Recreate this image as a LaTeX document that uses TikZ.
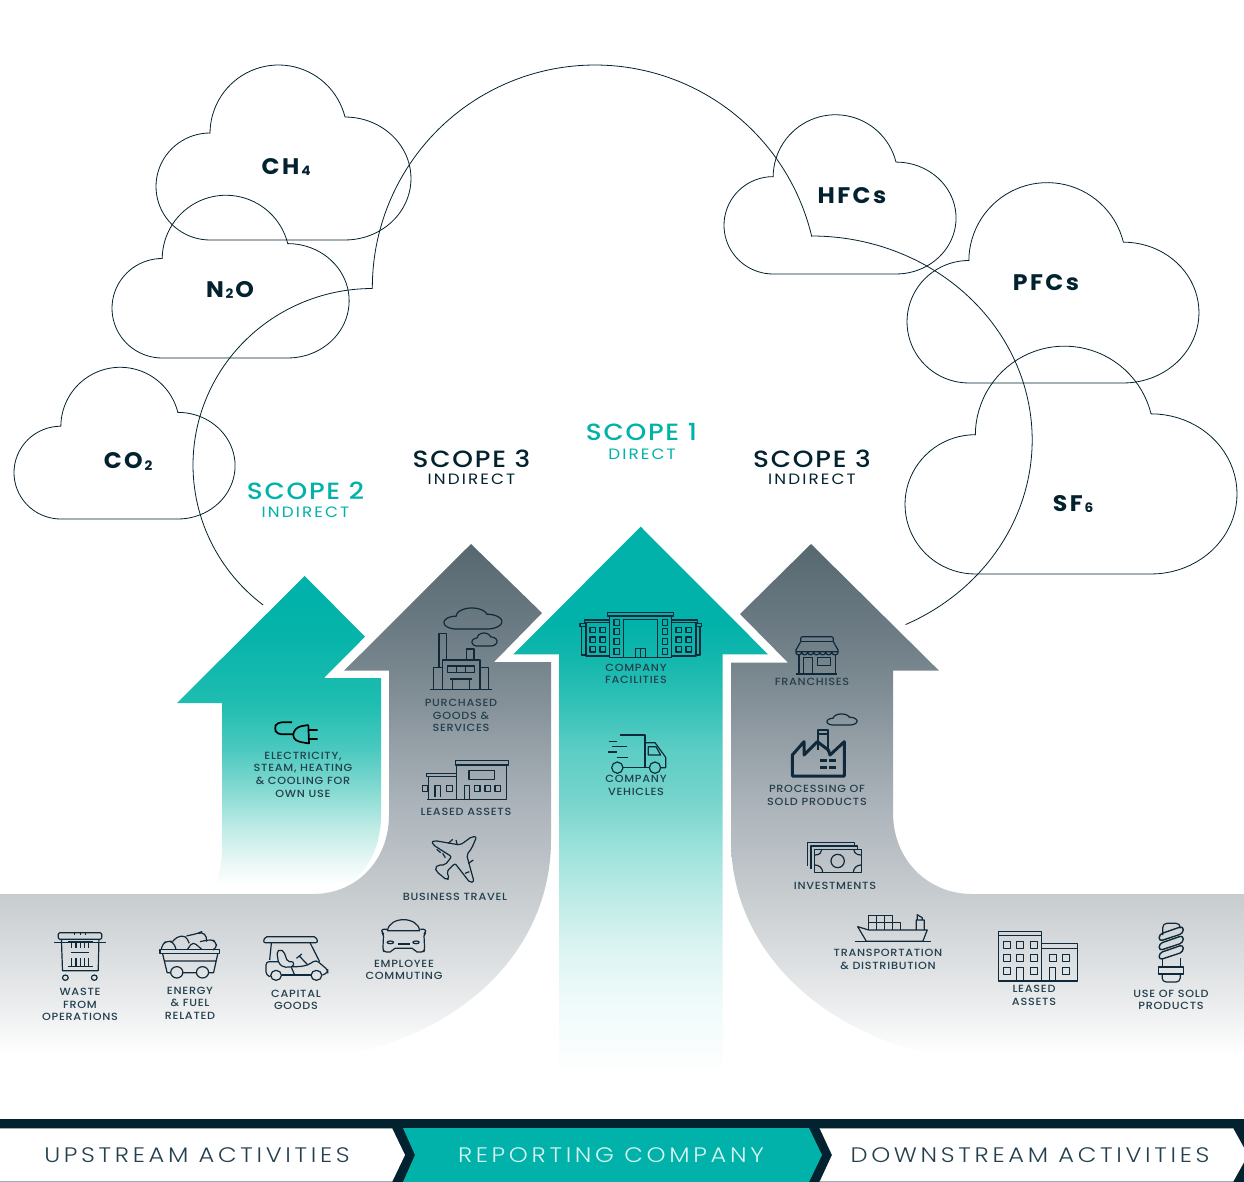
\documentclass[tikz,border=0pt]{standalone}
\usepackage{fontspec}
\newfontfamily\labf{Poppins Medium}[LetterSpace=7,FakeStretch=1.08]
\newfontfamily\scof{Poppins Medium}[LetterSpace=7.5,FakeStretch=1.12]
\newfontfamily\subf{Poppins}[LetterSpace=14,FakeStretch=1.12]
\newfontfamily\barf{Poppins Light}[LetterSpace=17.5,FakeStretch=1.15]
\newfontfamily\gasf{Poppins Bold}[LetterSpace=11,FakeStretch=1.05]
\definecolor{navy}{HTML}{02222F}
\definecolor{tealc}{HTML}{00B2A9}
\definecolor{labc}{HTML}{24404E}
\definecolor{icon}{HTML}{10293A}
\definecolor{g1}{HTML}{E9EBEC}\definecolor{g2}{HTML}{C7CCCF}\definecolor{g3}{HTML}{AAB2B9}\definecolor{g4}{HTML}{78868E}\definecolor{g5}{HTML}{55676F}
\definecolor{t1}{HTML}{EEFAFA}\definecolor{t2}{HTML}{DCF4F2}\definecolor{t3}{HTML}{C0EBE7}\definecolor{t4}{HTML}{9DE2DC}\definecolor{t5}{HTML}{76D4CC}\definecolor{t6}{HTML}{5CCDC5}\definecolor{t7}{HTML}{2FC0B6}\definecolor{t8}{HTML}{10B6AC}
\definecolor{s1}{HTML}{E6F7F5}\definecolor{s2}{HTML}{C2ECE7}\definecolor{s3}{HTML}{85DAD2}\definecolor{s4}{HTML}{4CC9BF}\definecolor{s5}{HTML}{1FBDB0}\definecolor{s6}{HTML}{08B4AA}
\pgfdeclareverticalshading{grayarrow}{100bp}{color(0bp)=(white);color(25bp)=(white);color(30.4bp)=(g1);color(40.75bp)=(g2);color(49.95bp)=(g3);color(62.65bp)=(g4);color(75bp)=(g5);color(100bp)=(g5)}
\pgfdeclareverticalshading{centerarrow}{100bp}{color(0bp)=(white);color(25bp)=(white);color(31.85bp)=(t1);color(36.4bp)=(t2);color(40.95bp)=(t3);color(45.55bp)=(t4);color(50.1bp)=(t5);color(54.65bp)=(t6);color(59.2bp)=(t7);color(63.4bp)=(t8);color(66.5bp)=(tealc);color(100bp)=(tealc)}
\pgfdeclareverticalshading{scopetwo}{100bp}{color(0bp)=(white);color(26.25bp)=(white);color(30.2bp)=(s1);color(34.95bp)=(s2);color(41.25bp)=(s3);color(47.55bp)=(s4);color(54.95bp)=(s5);color(64.9bp)=(s6);color(71.35bp)=(tealc);color(100bp)=(tealc)}
\tikzset{
  cloudline/.style={draw=navy,line width=0.8pt},
  iconline/.style={draw=icon,line width=1.2pt,line join=round},
  smallcloud/.style={draw=icon,line width=1.2pt},
  lab/.style={font=\labf\fontsize{10.4}{12.6}\selectfont,text=labc,align=center,inner sep=0pt},
  scopenavy/.style={font=\scof\fontsize{23.5}{24}\selectfont,text=navy,inner sep=0pt},
  subnavy/.style={font=\subf\fontsize{15}{16}\selectfont,text=navy,inner sep=0pt},
  scopeteal/.style={font=\scof\fontsize{23.5}{24}\selectfont,text=tealc,inner sep=0pt},
  subteal/.style={font=\subf\fontsize{15}{16}\selectfont,text=tealc,inner sep=0pt},
  gas/.style={font=\gasf\fontsize{22.5}{24}\selectfont,text=navy,inner sep=0pt},
  barlabel/.style={font=\barf\fontsize{21}{24}\selectfont,inner sep=0pt},
  zone/.style={shift={(0,880)},xscale=0.35714,yscale=0.33333},
  ztwo/.style={shift={(720,880)},xscale=0.3342,yscale=0.33333},
  zthree/.style={shift={(170,570)},xscale=0.33333,yscale=0.33333},
  zfour/.style={shift={(500,520)},xscale=0.33333,yscale=0.33333},
}
\newcommand\cloudat[4][cloudline]{\draw[#1,shift={(#2,#3)},#4] (54,0) -- (189,0) -- plot[domain=90:-90,samples=41] ({189+66*cos(\x)},{-61.5+61.5*sin(\x)}) -- plot[domain=-14:-180,samples=41] ({122.5+68.5*cos(\x)},{-106.5+68.5*sin(\x)}) -- plot[domain=-90:-270,samples=41] ({54+54*cos(\x)},{-53.5+53.5*sin(\x)}) -- cycle;}
\newcommand\lowdigit[1]{\kern1.8pt\raisebox{-1.5pt}{\fontsize{13}{13}\selectfont #1}\kern1.8pt}
\begin{document}
\begin{tikzpicture}[x=1pt,y=-1pt]
\useasboundingbox (0,0) rectangle (1244,1182);
\fill[white] (0,0) rectangle (1244,1182);
% clouds
\cloudat{156}{240}{scale=1}
\cloudat{112}{358}{scale=0.93}
\cloudat{14}{519}{scale=0.867}
\cloudat{724}{274}{scale=0.91}
\cloudat{907}{383}{scale=1.145}
\cloudat{905}{574}{scale=1.302}
% big outline
\draw[cloudline] plot[domain=127.5:270,samples=80] ({372.3+179.3*cos(\x)},{465+176.5*sin(\x)})
  -- plot[domain=180:346.6,samples=100] ({595+222.7*cos(\x)},{287.7+222.7*sin(\x)})
  -- plot[domain=-90:64.8,samples=100] ({811.7+220.5*cos(\x)},{440+204*sin(\x)});
% arrows
\shade[shading=grayarrow] (0,894) -- (313,894) .. controls (357,894) and (389,860) .. (389,815) -- (389,670.7) -- (344,670.7) -- (471,544) -- (542,613) -- (494,662) -- (551,662) -- (551,840) .. controls (551,945) and (470,1030) .. (345,1055) -- (0,1055) -- cycle;
\shade[shading=grayarrow] (1244,894) -- (972,894) .. controls (928,894) and (893,860) .. (893,813) -- (893,670.7) -- (939,670.7) -- (811,544) -- (740,614) -- (788,662.7) -- (731,662.7) -- (731,840) .. controls (731,945) and (815,1030) .. (935,1055) -- (1244,1055) -- cycle;
\shade[shading=scopetwo] (304.7,576) -- (365,636.7) -- (324,678) -- (381,678) -- (381,815) .. controls (381,860) and (355,893) .. (313,893) -- (213,893) .. controls (218,880) and (222,865) .. (222,850) -- (222,703) -- (177,703) -- cycle;
\shade[shading=centerarrow] (640.7,526.7) -- (768,654.3) -- (722.7,654.3) -- (722.7,1075) -- (559,1075) -- (559,654.3) -- (513.3,654.3) -- cycle;
% bottom bar
\fill[navy] (0,1119) rectangle (1244,1182);
\fill[white] (0,1128) -- (392,1128) -- (405,1155) -- (392,1182) -- (0,1182) -- cycle;
\fill[tealc] (403,1128) -- (809,1128) -- (822,1155) -- (809,1182) -- (403,1182) -- (415,1155) -- cycle;
\fill[white] (819.5,1128) -- (1233,1128) -- (1248,1155) -- (1233,1182) -- (819.5,1182) -- (832,1155) -- cycle;
\draw[g4!70,line width=0.7pt] (0,1128.3) -- (392,1128.3) (819.5,1128.3) -- (1233,1128.3) (0,1181.5) -- (392,1181.5) (819.5,1181.5) -- (1233,1181.5);
\node[barlabel,text=labc] (up) at (197,1155.5) {UPSTREAM ACTIVITIES};
\node[barlabel,text=white!85!tealc] (rep) at (611,1155.5) {REPORTING COMPANY};
\node[barlabel,text=labc] (down) at (1030,1155.5) {DOWNSTREAM ACTIVITIES};
% gases
\node[gas] (ch4) at (287,167) {CH\lowdigit{4}};
\node[gas] (n2o) at (230,290) {N\lowdigit{2}O};
\node[gas] (co2) at (129,461.5) {CO\lowdigit{2}};
\node[gas] (hfc) at (852,195.5) {HFCs};
\node[gas] (pfc) at (1046,282.5) {PFCs};
\node[gas] (sf6) at (1074,504) {SF\lowdigit{6}};
% scopes
\node[scopeteal] (s1) at (641.5,432.5) {SCOPE 1};
\node[subteal] (s1b) at (642,454) {DIRECT};
\node[scopenavy] (s3a) at (471.5,458.5) {SCOPE 3};
\node[subnavy] (s3ab) at (471.5,479) {INDIRECT};
\node[scopenavy] (s3b) at (812,458.5) {SCOPE 3};
\node[subnavy] (s3bb) at (812,479) {INDIRECT};
\node[scopeteal] (s2) at (305.5,490.5) {SCOPE 2};
\node[subteal] (s2b) at (305.5,512) {INDIRECT};
% labels
\node[lab] (l1) at (303,774.5) {ELECTRICITY,\\STEAM, HEATING\\\& COOLING FOR\\OWN USE};
\node[lab] (l2) at (461,715.5) {PURCHASED\\GOODS \&\\SERVICES};
\node[lab] (l3) at (466,812) {LEASED ASSETS};
\node[lab] (l4) at (455,897) {BUSINESS TRAVEL};
\node[lab] (l5) at (404,970) {EMPLOYEE\\COMMUTING};
\node[lab] (l6) at (296,1000) {CAPITAL\\GOODS};
\node[lab] (l7) at (190,1003) {ENERGY\\\& FUEL\\RELATED};
\node[lab] (l8) at (80,1004.5) {WASTE\\FROM\\OPERATIONS};
\node[lab] (l9) at (636,674) {COMPANY\\FACILITIES};
\node[lab] (l10) at (636,785.5) {COMPANY\\VEHICLES};
\node[lab] (l11) at (812,682) {FRANCHISES};
\node[lab] (l12) at (817,795.5) {PROCESSING OF\\SOLD PRODUCTS};
\node[lab] (l13) at (835,886) {INVESTMENTS};
\node[lab] (l14) at (888,959.5) {TRANSPORTATION\\\& DISTRIBUTION};
\node[lab] (l15) at (1034,995.5) {LEASED\\ASSETS};
\node[lab] (l16) at (1171,1000) {USE OF SOLD\\PRODUCTS};
% icon clouds
\cloudat[smallcloud]{444}{629}{xscale=0.227,yscale=0.12}
\cloudat[smallcloud]{472}{646}{xscale=0.098,yscale=0.074}
\cloudat[smallcloud]{827}{725}{xscale=0.118,yscale=0.063}
% icons from zoom 1: bin, cart, golf cart, car
\begin{scope}[zone,iconline]
 \draw[rounded corners=2pt] (163,178) -- (163,158) -- (285,158) -- (285,178) -- cycle;
 \draw (152,188) -- (296,188);
 \draw (172,178) -- (175,272) -- (275,272) -- (277,178);
 \draw (208,155) -- (208,165) (225,155) -- (225,165) (240,155) -- (240,165);
 \draw (183,293) circle[radius=8] (264,293) circle[radius=8];
 \draw (190,186) -- (260,186) (200,186) -- (200,203) (213,186) -- (213,203) (225,186) -- (225,203) (237,186) -- (237,203) (248,186) -- (248,203);
 \draw (198,218) -- (250,218);
 \draw (190,260) -- (260,260) (200,235) -- (200,260) (213,235) -- (213,260) (225,235) -- (225,260) (237,235) -- (237,260) (248,235) -- (248,260);
 % cart
 \draw (448,208) rectangle (615,220);
 \draw (455,220) -- (468,278) -- (478,278) (610,220) -- (598,278) -- (584,278) (512,278) -- (550,278) (459,243) -- (605,243);
 \draw (495,277) circle[radius=17] (567,277) circle[radius=17];
 \draw[rounded corners=4pt] (452,208) -- (455,190) -- (470,183) -- (485,185) -- (493,208);
 \draw[rounded corners=4pt] (483,185) -- (495,170) -- (520,167) -- (530,190);
 \draw[rounded corners=4pt] (522,168) -- (555,160) -- (565,155) -- (580,170) -- (578,185);
 \draw[rounded corners=4pt] (560,185) -- (590,178) -- (605,185) -- (607,205) -- (600,208);
 \draw[rounded corners=4pt] (525,208) -- (540,185) -- (565,208);
 % golf cart
 \draw[rounded corners=2pt] (737,188) -- (742,170) -- (885,170) -- (890,188) -- cycle;
 \draw (760,188) -- (755,240) (868,188) -- (895,245);
 \draw[rounded corners=2pt] (775,215) -- (785,208) -- (795,215) -- (805,245) -- (822,245) -- (822,260) -- (795,262) -- (780,250) -- cycle;
 \draw (830,235) -- (845,222) (838,228) -- (862,255);
 \draw[rounded corners=3pt] (757,290) -- (745,285) -- (745,245) -- (780,245);
 \draw (790,285) -- (870,285);
 \draw[rounded corners=3pt] (903,285) -- (918,278) -- (918,270) -- (885,240) -- (862,255) -- (840,260) -- (815,260);
 \draw (815,260) -- (825,285);
 \draw (773,286) circle[radius=15] (886,286) circle[radius=15];
 % car
 \draw (1085,152) .. controls (1090,108) and (1170,108) .. (1175,152) -- cycle;
 \draw[rounded corners=2pt] (1083,148) -- (1068,148) -- (1070,158) -- (1074,162) -- (1072,210) -- (1076,216) -- (1098,216) -- (1100,205) -- (1160,205) -- (1162,216) -- (1186,216) -- (1189,210) -- (1187,162) -- (1192,158) -- (1192,148) -- (1177,148);
 \draw (1093,187) ellipse[x radius=9,y radius=4] (1165,187) ellipse[x radius=9,y radius=4];
 \draw (1113,192) -- (1147,192);
\end{scope}
% zoom 2: ship, building, bulb
\begin{scope}[ztwo,iconline]
 \draw (412,140) -- (445,150) -- (620,150) -- (607,184) -- (438,184) -- cycle;
 \draw (403,185) -- (630,185);
 \draw (445,150) -- (445,106) -- (517,106) -- (517,150) (517,128) -- (540,128) -- (540,150) (469,106) -- (469,150) (493,106) -- (493,150) (445,128) -- (517,128);
 \draw (587,150) -- (587,120) -- (611,120) -- (611,150) (590,120) -- (590,104) -- (605,113) -- (605,120);
 % building
 \draw (833,303) rectangle (963,155) (833,167) -- (963,167);
 \draw (963,303) rectangle (1070,190) (963,205) -- (1070,205);
 \foreach \wx in {848,887,928} \foreach \wy in {184,223} \draw (\wx,\wy) rectangle +(21,21);
 \draw (848,262) rectangle +(21,21) (928,262) rectangle +(21,21) (887,303) rectangle (908,262);
 \draw (985,223) rectangle +(21,21) (1025,223) rectangle +(21,21) (1025,262) rectangle +(21,21) (985,303) rectangle (1005,262);
 % bulb
 \draw (1313,261) rectangle (1387,282);
 \draw[rounded corners=4pt] (1323,282) -- (1323,306) -- (1377,306) -- (1377,282);
 \draw (1325,235) -- (1325,261) (1377,235) -- (1377,261);
 \draw[rounded corners=4pt] (1325,165) -- (1325,130) -- (1377,130) -- (1377,145);
 \foreach \cy in {162,190,218} \draw[rounded corners=3.5pt,line width=1.4pt] (1314,\cy+1) -- (1386,\cy-24) -- (1386,\cy-2) -- (1314,\cy+22) -- cycle;
\end{scope}
% zoom 3: plug, factory, leased assets, plane
\begin{scope}[zthree,iconline]
 \draw[black,line width=1.7pt,rounded corners=4pt] (366,457) -- (322,457) -- (312,475) -- (322,493) -- (370,493);
 \draw[black,line width=1.7pt,rounded corners=3pt] (415,465) -- (385,470) -- (370,485) -- (370,505) -- (385,515) -- (415,520);
 \draw[black,line width=1.7pt] (415,465) -- (417,522) (417,480) -- (443,480) (417,507) -- (443,507);
 % factory
 \draw (780,358) -- (965,358);
 \draw (807,293) -- (807,190) -- (830,190) -- (830,270) (890,270) -- (890,237) -- (912,237) -- (912,270);
 \draw (817,358) -- (817,270) -- (930,270) -- (930,358) (817,293) -- (790,293) -- (790,358) (930,293) -- (955,293) -- (955,358);
 \draw (833,288) rectangle (913,308) (860,288) -- (860,308) (886,288) -- (886,308);
 \draw (840,327) -- (907,327) (848,327) -- (848,358) (898,327) -- (898,358);
 % leased
 \draw (860,688) -- (860,585) -- (1010,585) -- (1010,688) -- cycle;
 \draw (856,585) rectangle (1015,572);
 \draw (897,601) rectangle (973,628);
 \draw (913,647) rectangle +(17,17) (945,647) rectangle +(17,17) (975,647) rectangle +(17,17);
 \draw (883,688) -- (883,647) -- (898,647) -- (898,688);
 \draw (772,688) -- (860,688) (775,620) -- (775,688) (770,610) rectangle (860,620);
 \draw (795,682) -- (795,647) -- (812,647) -- (812,682);
 \draw (830,647) rectangle +(17,17) (758,647) rectangle +(14,17);
 % plane
 \draw[rounded corners=2pt] (920,800) -- (905,835) -- (890,855) -- (912,935) -- (900,938) -- (855,880) -- (830,905) -- (838,925) -- (830,930) -- (800,905) -- (795,893) -- (805,885) -- (825,885) -- (845,860) -- (790,825) -- (785,815) -- (795,812) -- (870,825) -- (885,815) -- (905,800) -- cycle;
 \draw (835,820) -- (848,808) (862,825) -- (858,810) (800,838) -- (812,848) (818,850) -- (826,863) (895,880) -- (910,870) (885,910) -- (898,905) ;
\end{scope}
% zoom 4: facilities, truck, franchise, processing, investments
\begin{scope}[zfour,iconline]
 \draw (322,277) rectangle (521,288);
 \draw (328,288) rectangle (515,412);
 \draw (370,412) -- (370,298) -- (472,298) -- (472,412);
 \draw (406,412) -- (406,385) -- (437,385) -- (437,412) (421,385) -- (421,412);
 \foreach \wy in {298,325,355,385} {\draw (342,\wy) rectangle +(16,19); \draw (487,\wy) rectangle +(16,19);}
 \draw (328,300) -- (253,300) -- (253,308) -- (328,308) (258,308) -- (258,408) -- (328,408);
 \draw (258,310) -- (240,310) -- (240,320) -- (258,320) (245,320) -- (245,405) -- (258,405);
 \draw (515,300) -- (592,300) -- (592,308) -- (515,308) (588,308) -- (588,408) -- (515,408);
 \draw (588,310) -- (605,310) -- (605,320) -- (588,320) (600,320) -- (600,405) -- (588,405);
 \foreach \wx in {270,300,528,558} \foreach \wy in {322,351,380} \draw (\wx,\wy) rectangle +(17,16);
 % truck
 \draw (360,645) -- (435,645) -- (435,743);
 \draw (328,664) -- (350,664) (335,680) -- (382,680) (325,696) -- (350,696) (350,712) -- (385,712);
 \draw (435,668) -- (465,668) -- (497,712) -- (497,743) -- (482,743);
 \draw (445,680) -- (468,680) -- (482,705) -- (445,705) -- cycle;
 \draw (368,743) -- (448,743);
 \draw (352,743) circle[radius=17] (465,743) circle[radius=17];
 % franchise
 \draw[rounded corners=2pt] (902,365) -- (902,350) -- (1000,350) -- (1000,365);
 \draw (902,365) -- (1000,365);
 \draw[rounded corners=2pt] (902,365) -- (885,395) -- (1017,395) -- (1000,365);
 \draw (887,395) .. controls (887,408) and (905,408) .. (905,395) .. controls (905,408) and (923,408) .. (923,395) .. controls (923,408) and (941,408) .. (941,395) .. controls (941,408) and (959,408) .. (959,395) .. controls (959,408) and (977,408) .. (977,395) .. controls (977,408) and (995,408) .. (995,395) .. controls (995,408) and (1015,408) .. (1015,395);
 \draw (897,405) -- (897,462) (1007,405) -- (1007,462) (888,462) -- (1010,462);
 \draw (910,462) -- (910,412) -- (938,412) -- (938,462);
 \draw (952,413) rectangle (992,437);
 % processing
 \draw[line width=3pt,line join=round] (877,768) -- (877,705) -- (912,665) -- (912,705) -- (952,665) -- (985,690) -- (990,705) -- (1033,665) -- (1033,768) -- cycle;
 \draw[line width=2pt] (955,690) -- (955,630) -- (985,630) -- (985,695) (955,642) -- (985,642);
 \draw[line width=3pt] (960,722) -- (980,722) (988,722) -- (1007,722) (960,743) -- (980,743) (988,743) -- (1007,743);
 % investments
 \draw (943,988) rectangle (1085,1058);
 \draw (933,1048) -- (933,978) -- (1073,978) -- (1073,988);
 \draw (923,1038) -- (923,968) -- (1063,968) -- (1063,978);
 \draw (1013,1023) circle[radius=20];
 \draw (945,1005) .. controls (958,1005) and (965,998) .. (965,990) (1083,1005) .. controls (1070,1005) and (1062,998) .. (1062,990) (945,1035) .. controls (958,1035) and (968,1045) .. (968,1057) (1083,1035) .. controls (1070,1035) and (1060,1045) .. (1060,1057);
\end{scope}
\end{tikzpicture}
\end{document}
